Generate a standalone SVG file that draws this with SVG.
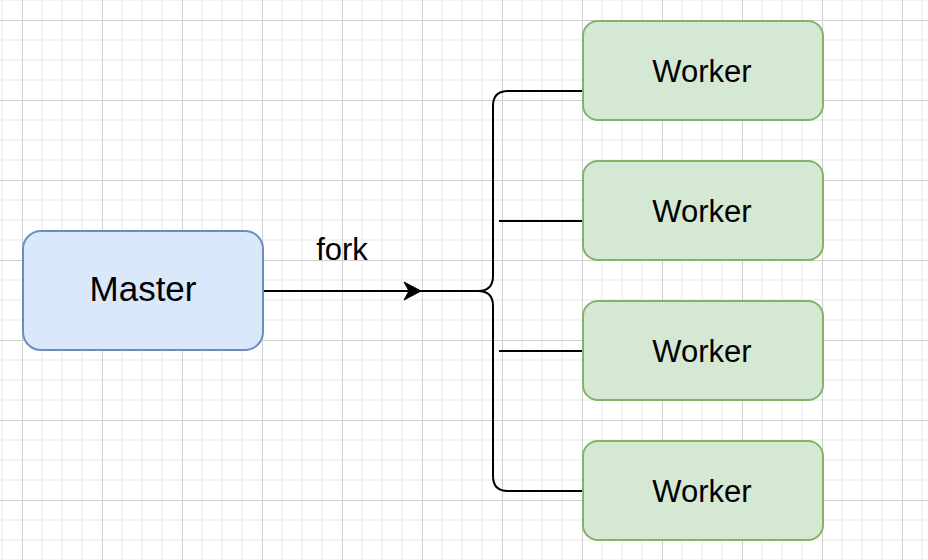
<svg xmlns="http://www.w3.org/2000/svg" width="928" height="560" viewBox="0 0 928 560">
  <defs>
    <pattern id="grid" x="22" y="20" width="80" height="80" patternUnits="userSpaceOnUse">
      <path d="M20,0V80M40,0V80M60,0V80M0,20H80M0,40H80M0,60H80" fill="none" stroke="#f0f0f0" stroke-width="1.5"/>
      <path d="M0.5,0V80M0,0.5H80" fill="none" stroke="#d0d0d0" stroke-width="1"/>
    </pattern>
    <style>
      .master rect { fill: #dae8fc; stroke: #6c8ebf; stroke-width: 2; }
      .worker rect { fill: #d5e8d4; stroke: #82b366; stroke-width: 2; }
      text { font-family: "Liberation Sans", Helvetica, Arial, sans-serif; fill: #000; text-anchor: middle; }
      .lbl-master { font-size: 35px; }
      .lbl-worker { font-size: 31px; }
      .lbl-edge { font-size: 31px; }
      .edge { fill: none; stroke: #000; stroke-width: 2; }
      .head { fill: #000; stroke: #000; stroke-width: 1; stroke-linejoin: miter; }
    </style>
  </defs>
  <rect width="928" height="560" fill="#ffffff"/>
  <rect width="928" height="560" fill="url(#grid)"/>

  <g id="connectors">
    <path class="edge" d="M263,291 H478 Q493,291 493,276 V106 Q493,91 508,91 H583"/>
    <path class="edge" d="M478,291 Q493,291 493,306 V476 Q493,491 508,491 H583"/>
    <path class="edge" d="M499,221 H583"/>
    <path class="edge" d="M499,351 H583"/>
    <polygon class="head" points="421,291 404,282 409,291 404,300"/>
    <text class="lbl-edge" x="342" y="260">fork</text>
  </g>

  <g id="master" class="master">
    <rect x="23" y="231" width="240" height="119" rx="18" ry="18"/>
    <text class="lbl-master" x="143" y="301">Master</text>
  </g>

  <g id="worker1" class="worker">
    <rect x="583" y="21" width="240" height="99" rx="15" ry="15"/>
    <text class="lbl-worker" x="702" y="82">Worker</text>
  </g>
  <g id="worker2" class="worker">
    <rect x="583" y="161" width="240" height="99" rx="15" ry="15"/>
    <text class="lbl-worker" x="702" y="222">Worker</text>
  </g>
  <g id="worker3" class="worker">
    <rect x="583" y="301" width="240" height="99" rx="15" ry="15"/>
    <text class="lbl-worker" x="702" y="362">Worker</text>
  </g>
  <g id="worker4" class="worker">
    <rect x="583" y="441" width="240" height="99" rx="15" ry="15"/>
    <text class="lbl-worker" x="702" y="502">Worker</text>
  </g>
</svg>
